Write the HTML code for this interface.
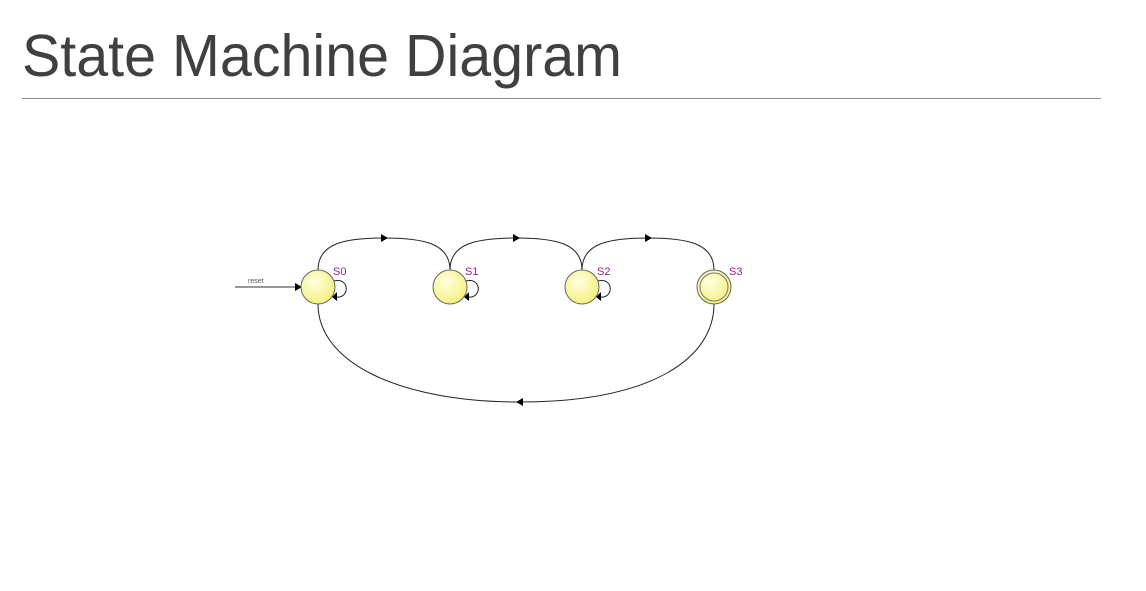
<!DOCTYPE html>
<html><head><meta charset="utf-8"><style>
html,body{margin:0;padding:0;background:#fff;}
body{width:1146px;height:586px;overflow:hidden;}
</style></head><body>
<svg id="svg" width="1146" height="586" viewBox="0 0 1146 586" xmlns="http://www.w3.org/2000/svg">
<defs>
<radialGradient id="g" cx="0.4" cy="0.35" r="0.7">
<stop offset="0" stop-color="#ffffe0"/><stop offset="1" stop-color="#f4f07a"/>
</radialGradient>
</defs>
<text x="22" y="76" font-family="Liberation Sans, sans-serif" font-size="59" fill="#404040" textLength="600" lengthAdjust="spacingAndGlyphs">State Machine Diagram</text>
<line x1="22" y1="98.5" x2="1101" y2="98.5" stroke="#8a8a8a" stroke-width="1"/>
<g id="diagram"></g>
</svg>
<script>
const states = ["S0","S1","S2","S3"];
const stateX = [318,450,582,714];
const finalStates = [false,false,false,true];
const transitions = [[0,1],[1,2],[2,3]];
const selfLoops = [0,1,2];
const NS="http://www.w3.org/2000/svg";
const g=document.getElementById('diagram');
const cy=287, r=17;
function mk(tag,attrs){const e=document.createElementNS(NS,tag);for(const k in attrs)e.setAttribute(k,attrs[k]);g.appendChild(e);return e;}
function arrow(x,y,dir){const d=dir>0?`M${x+4},${y} L${x-3},${y-4} L${x-3},${y+4} Z`:`M${x-4},${y} L${x+3},${y-4} L${x+3},${y+4} Z`;return mk('path',{d,fill:'#000'});}
// reset arrow
let e=mk('line',{x1:235,y1:287,x2:297,y2:287,stroke:'#333','stroke-width':1});


e=arrow(298,287,1);


e=mk('text',{x:248,y:283,'font-size':7,'font-family':'Liberation Sans, sans-serif',fill:'#555'});e.textContent='reset';


transitions.forEach(([a,b])=>{
 const x1=stateX[a],x2=stateX[b],m=(x1+x2)/2,top=238;
 const p=mk('path',{d:`M${x1},${cy-r} C${x1},${top+6} ${x1+25},${top} ${m},${top} C${x2-25},${top} ${x2},${top+6} ${x2},${cy-r}`,fill:'none',stroke:'#222','stroke-width':1});
 
 
 const h=arrow(m,top,1);
 
 
});
// back edge
{const x1=stateX[0],x2=stateX[3],bot=402,m=520;
 const p=mk('path',{d:`M${x1},${cy+r} C${x1},${bot-40} ${x1+80},${bot} ${m},${bot} C${x2-60},${bot} ${x2},${bot-45} ${x2},${cy+r}`,fill:'none',stroke:'#222','stroke-width':1});
 
 
 const h=arrow(m,bot,-1);
 
 }
selfLoops.forEach(i=>{
 const x=stateX[i];
 const p=mk('path',{d:`M${x+16},${cy-6} C${x+32},${cy-10} ${x+32},${cy+12} ${x+18},${cy+10}`,fill:'none',stroke:'#222','stroke-width':1});
 
 
 const h=mk('path',{d:`M${x+14},${cy+10} L${x+19},${cy+5} L${x+19},${cy+14} Z`,fill:'#000'});
 
 
});
states.forEach((s,i)=>{
 const x=stateX[i];
 const c=mk('circle',{cx:x,cy:cy,r:r,fill:'url(#g)',stroke:'#666','stroke-width':1});
 
 
 if(finalStates[i]){const c2=mk('circle',{cx:x,cy:cy,r:r-3,fill:'none',stroke:'#777','stroke-width':1});
  
  }
 const t=mk('text',{x:x+15,y:275,'font-size':11,'font-family':'Liberation Sans, sans-serif',fill:'#9a1a9a'});t.textContent=s;
 
 
});
</script>
</body></html>
